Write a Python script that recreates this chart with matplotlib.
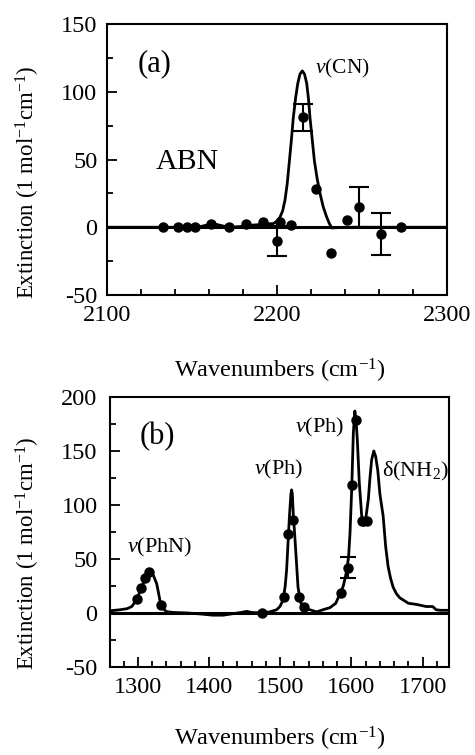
import matplotlib
matplotlib.use("Agg")
import matplotlib.pyplot as plt

plt.rcParams['font.family'] = ['Liberation Serif', 'DejaVu Serif']
plt.rcParams['mathtext.fontset'] = 'custom'
plt.rcParams['mathtext.rm'] = 'Liberation Serif'
plt.rcParams['mathtext.it'] = 'Liberation Serif:italic'
plt.rcParams['axes.unicode_minus'] = False

# ---------------- Panel (a): ABN, nu(CN) ----------------
a_pts_x = [2133, 2142, 2147, 2152, 2161, 2172, 2182, 2192, 2200, 2202, 2208,
           2215, 2223, 2232, 2241, 2248, 2261, 2273]
a_pts_y = [0, 0, 0, 0, 2.5, 0, 2.5, 4, -10, 4, 1.5,
           81, 28.5, -19, 5, 15, -5, 0]
a_err_x = [2200, 2215, 2248, 2261]
a_err_y = [-10, 81, 15, -5]
a_err = [11, 10, 15, 15.5]

a_curve_x = [2100, 2120, 2140, 2155, 2160, 2163, 2168, 2172, 2178, 2185, 2190,
             2194, 2197.8, 2200, 2201.8, 2203.3, 2204.7, 2206, 2207.3, 2208.5,
             2209.6, 2211, 2212.2, 2213.5, 2214.9, 2216.2, 2217.5, 2218.5,
             2219.4, 2220.7, 2222, 2223.6, 2225.3, 2227.2, 2229.2, 2230.7,
             2232.2, 2240, 2260, 2300]
a_curve_y = [0, 0, 0, 0.5, 2, 2.5, 1, 0, 0.5, 1.5, 2,
             2.5, 2.7, 4.5, 7.6, 12, 20, 32, 49, 65,
             81, 96, 106, 113, 115.4, 113, 106, 95,
             81, 65, 49, 36, 25, 15, 7.6, 3,
             -0.5, 0, 0, 0]

a_xticks = [2100, 2200, 2300]
a_yticks = [-50, 0, 50, 100, 150]

# ---------------- Panel (b) ----------------
b_pts_x = [1298.6, 1304.6, 1310.2, 1315.8, 1333, 1474.5, 1505.2, 1511.2, 1517.4,
           1526.7, 1533.3, 1585, 1594.7, 1601.3, 1606, 1614.4, 1621.4]
b_pts_y = [13, 22.8, 32.7, 38.3, 7, 0, 14.5, 73, 86,
           15, 5.3, 18.6, 42, 118.8, 178.3, 85.3, 85.3]
b_err_x = [1594.7]
b_err_y = [42]
b_err = [10]

b_curve_x = [1261, 1275, 1285, 1291.6, 1298, 1305, 1311, 1314, 1317, 1320, 1323,
             1326.6, 1329, 1331, 1334, 1338, 1341, 1350, 1370, 1390, 1405, 1420,
             1435, 1445, 1453, 1460, 1475, 1485, 1495, 1499.6, 1504, 1507, 1509,
             1511, 1513, 1515, 1516, 1517, 1518.5, 1520.6, 1523, 1525, 1527.5,
             1530, 1535, 1541.7, 1551, 1560, 1570, 1578, 1584, 1588.6, 1593,
             1596, 1598, 1600.4, 1602.7, 1604.8, 1606.5, 1608.3, 1611, 1614.4,
             1617.8, 1620, 1623.7, 1626, 1628.4, 1631.4, 1634, 1637, 1640,
             1644.5, 1648, 1651.5, 1655, 1658.5, 1663, 1668, 1680, 1691, 1705,
             1714, 1719, 1725, 1737]
b_curve_y = [2, 3, 4, 6, 12, 23, 33, 38, 40.5, 38, 33,
             27, 19, 12, 6, 2.5, 1.2, 0.5, 0, -1, -2, -2,
             -0.5, 0.5, 1.5, 0.5, 0, 1, 3, 6, 12, 25, 40,
             65, 90, 110, 114, 110, 90, 70, 45, 24, 14,
             7, 4, 3, 1, 3, 5, 9, 18, 25, 38,
             52, 74, 115, 167, 187, 178, 160, 121, 90,
             81, 87, 105, 125, 142, 150, 145, 132, 110,
             90, 62, 43, 32, 24, 18, 14, 9, 8, 6,
             6, 3, 2.5, 2.5]

b_xticks = [1300, 1400, 1500, 1600, 1700]
b_yticks = [-50, 0, 50, 100, 150, 200]

FS = 17.5
W, H = 475, 755
fig = plt.figure(figsize=(W / 100, H / 100), dpi=100)

ax_a = fig.add_axes([107 / W, 1 - 295 / H, 340 / W, 271 / H])
ax_b = fig.add_axes([110 / W, 1 - 667 / H, 339 / W, 270 / H])

ylabel = 'Extinction (1 mol$^{-1}$cm$^{-1}$)'
xlabel = 'Wavenumbers (cm$^{-1}$)'


def style(ax, xlim, ylim, xticks, yticks, xminor, yminor, ypad):
    ax.set_xlim(*xlim)
    ax.set_ylim(*ylim)
    ax.set_xticks(xticks)
    ax.set_yticks(yticks)
    ax.set_xticks(xminor, minor=True)
    ax.set_yticks(yminor, minor=True)
    ax.tick_params(which='both', direction='in', top=False, right=False,
                   width=1.3, labelsize=FS)
    ax.tick_params(which='major', length=7)
    ax.tick_params(which='minor', length=4)
    ax.tick_params(axis='x', pad=7)
    ax.tick_params(axis='y', pad=ypad)
    for s in ax.spines.values():
        s.set_linewidth(1.5)
    ax.axhline(0, color='black', lw=2.2, zorder=2)
    ax.set_xlabel(xlabel, fontsize=FS)
    ax.set_ylabel(ylabel, fontsize=16.5)


# panel (a)
ax_a.plot(a_curve_x, a_curve_y, color='black', lw=2, solid_joinstyle='round', zorder=3)
ax_a.plot(a_pts_x, a_pts_y, 'o', color='black', ms=6.5, zorder=4)
ax_a.errorbar(a_err_x, a_err_y, yerr=a_err, fmt='none', ecolor='black',
              elinewidth=1.5, capsize=7.5, capthick=1.5, zorder=4)
style(ax_a, (2100, 2300), (-50, 150), a_xticks, a_yticks,
      list(range(2100, 2301, 20)), list(range(-50, 151, 25)), 7)
ax_a.xaxis.set_label_coords(0.509, -0.229)
ax_a.yaxis.set_label_coords(-0.191, 0.417)
ax_a.text(2128, 121, '(a)', fontsize=22, ha='center', va='center')
ax_a.text(2238.5, 117, r'$\nu$(CN)', fontsize=15.5, ha='center', va='center')
ax_a.text(2147, 48, 'ABN', fontsize=21.5, ha='center', va='center')

# panel (b)
ax_b.plot(b_curve_x, b_curve_y, color='black', lw=2, solid_joinstyle='round', zorder=3)
ax_b.plot(b_pts_x, b_pts_y, 'o', color='black', ms=6.5, zorder=4)
ax_b.errorbar(b_err_x, b_err_y, yerr=b_err, fmt='none', ecolor='black',
              elinewidth=1.5, capsize=5.5, capthick=1.5, zorder=4)
style(ax_b, (1261, 1737), (-50, 200), b_xticks, b_yticks,
      list(range(1280, 1737, 20)), list(range(-50, 201, 25)), 9)
ax_b.xaxis.set_label_coords(0.50, -0.216)
ax_b.yaxis.set_label_coords(-0.2, 0.422)
ax_b.text(1328, 163, '(b)', fontsize=22, ha='center', va='center')
ax_b.text(1331, 61, r'$\nu$(PhN)', fontsize=16, ha='center', va='center')
ax_b.text(1498, 133, r'$\nu$(Ph)', fontsize=16, ha='center', va='center')
ax_b.text(1555.5, 172, r'$\nu$(Ph)', fontsize=16, ha='center', va='center')
ax_b.text(1690, 131, 'δ(NH$_2$)', fontsize=16, ha='center', va='center')

fig.savefig('out.png', dpi=100)
